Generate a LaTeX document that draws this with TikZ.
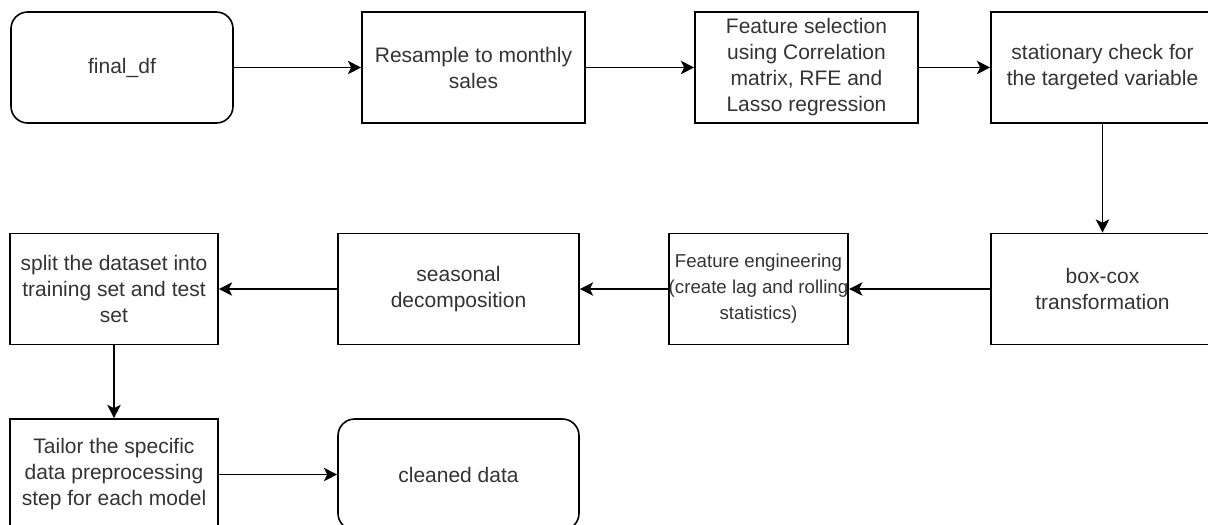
\documentclass[tikz,border=0pt]{standalone}
\usepackage{fontspec}
\setmainfont{Liberation Sans}
\usetikzlibrary{arrows.meta}

\begin{document}
\begin{tikzpicture}[x=0.75pt,y=-0.75pt,
	stepbox/.style={draw,line width=1.2pt,align=center,inner sep=0pt,minimum height=83.25pt,
		font=\fontsize{15.75}{19.5}\selectfont,text=black!80},
	endbox/.style={stepbox,rounded corners=12.5pt},
	flow/.style={line width=1.2pt,-{Stealth[length=10pt,width=10pt,inset=2.5pt]}}]
	\path[use as bounding box,clip] (0,0) rectangle (1208,525);
	% first row
	\node[endbox,minimum width=166.5pt] (finaldf) at (122,67.5) {final\_df};
	\node[stepbox,minimum width=167.25pt] (resample) at (473.5,67.5) {Resample to monthly\\sales};
	\node[stepbox,minimum width=167.25pt] (featsel) at (806.5,67.5) {Feature selection\\using Correlation\\matrix, RFE and\\Lasso regression};
	\node[stepbox,minimum width=167.25pt] (statcheck) at (1102.5,67.5) {stationary check for\\the targeted variable};
	% second row
	\node[stepbox,minimum width=167.25pt] (boxcox) at (1102.5,289) {box-cox\\transformation};
	\node[stepbox,minimum width=134.25pt,font=\fontsize{14}{19.5}\selectfont] (feateng) at (758.5,289) {Feature engineering\\(create lag and rolling\\statistics)};
	\node[stepbox,minimum width=180.75pt] (seasonal) at (458.5,289) {seasonal\\decomposition};
	\node[stepbox,minimum width=156pt] (split) at (114,289) {split the dataset into\\training set and test\\set};
	% third row
	\node[stepbox,minimum width=156pt] (tailor) at (114,474.5) {Tailor the specific\\data preprocessing\\step for each model};
	\node[endbox,minimum width=180.75pt] (cleaned) at (458.5,474.5) {cleaned data};

	\draw[flow] (finaldf) -- (resample);
	\draw[flow] (resample) -- (featsel);
	\draw[flow] (featsel) -- (statcheck);
	\draw[flow] (statcheck) -- (boxcox);
	\draw[flow] (boxcox) -- (feateng);
	\draw[flow] (feateng) -- (seasonal);
	\draw[flow] (seasonal) -- (split);
	\draw[flow] (split) -- (tailor);
	\draw[flow] (tailor) -- (cleaned);
\end{tikzpicture}
\end{document}
